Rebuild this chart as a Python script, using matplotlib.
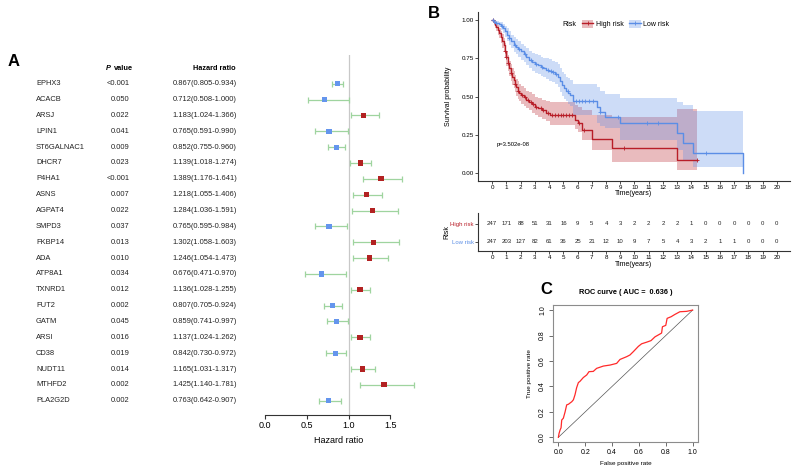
import numpy as np
import matplotlib
matplotlib.use('Agg')
import matplotlib.pyplot as plt
from matplotlib import transforms
from matplotlib.patches import Patch
from matplotlib.lines import Line2D

plt.rcParams['font.family'] = ['Liberation Sans', 'DejaVu Sans']

# ---------------- Panel A data ----------------
genes = ['EPHX3', 'ACACB', 'ARSJ', 'LPIN1', 'ST6GALNAC1', 'DHCR7', 'P4HA1', 'ASNS',
         'AGPAT4', 'SMPD3', 'FKBP14', 'ADA', 'ATP8A1', 'TXNRD1', 'FUT2', 'GATM',
         'ARSI', 'CD38', 'NUDT11', 'MTHFD2', 'PLA2G2D']
pvals = ['<0.001', '0.050', '0.022', '0.041', '0.009', '0.023', '<0.001', '0.007',
         '0.022', '0.037', '0.013', '0.010', '0.034', '0.012', '0.002', '0.045',
         '0.016', '0.019', '0.014', '0.002', '0.002']
hr = [0.867, 0.712, 1.183, 0.765, 0.852, 1.139, 1.389, 1.218, 1.284, 0.765, 1.302,
      1.246, 0.676, 1.136, 0.807, 0.859, 1.137, 0.842, 1.165, 1.425, 0.763]
hr_lo = [0.805, 0.508, 1.024, 0.591, 0.755, 1.018, 1.176, 1.055, 1.036, 0.595, 1.058,
         1.054, 0.471, 1.028, 0.705, 0.741, 1.024, 0.730, 1.031, 1.140, 0.642]
hr_hi = [0.934, 1.000, 1.366, 0.990, 0.960, 1.274, 1.641, 1.406, 1.591, 0.984, 1.603,
         1.473, 0.970, 1.255, 0.924, 0.997, 1.262, 0.972, 1.317, 1.781, 0.907]
hr_ticks = [0.0, 0.5, 1.0, 1.5]

# ---------------- Panel B data ----------------
high_t = [0, 0.1, 0.2, 0.3, 0.4, 0.5, 0.6, 0.7, 0.8, 0.9, 1.0, 1.1, 1.2, 1.3, 1.4, 1.5,
          1.6, 1.7, 1.8, 1.9, 2.0, 2.2, 2.4, 2.6, 2.8, 3.0, 3.25, 3.5, 3.75, 4.05,
          5.82, 6.0, 6.29, 7.0, 8.4, 13.0, 14.4]
high_s = [1.0, 0.985, 0.97, 0.955, 0.935, 0.915, 0.89, 0.865, 0.835, 0.80, 0.76, 0.72,
          0.685, 0.655, 0.63, 0.61, 0.585, 0.56, 0.54, 0.525, 0.51, 0.495, 0.48, 0.465,
          0.45, 0.435, 0.425, 0.41, 0.395, 0.38, 0.348, 0.326, 0.28, 0.222, 0.165,
          0.085, 0.085]
high_hi = [1.0, 0.995, 0.99, 0.98, 0.965, 0.95, 0.93, 0.91, 0.88, 0.85, 0.80, 0.77,
           0.735, 0.71, 0.685, 0.665, 0.64, 0.615, 0.60, 0.585, 0.57, 0.555, 0.54, 0.53,
           0.515, 0.50, 0.49, 0.48, 0.47, 0.467, 0.445, 0.43, 0.41, 0.38, 0.37, 0.42, 0.42]
high_lo = [1.0, 0.97, 0.95, 0.93, 0.905, 0.88, 0.85, 0.82, 0.79, 0.75, 0.70, 0.67,
           0.635, 0.60, 0.575, 0.555, 0.53, 0.505, 0.485, 0.47, 0.455, 0.44, 0.425, 0.41,
           0.395, 0.38, 0.37, 0.355, 0.34, 0.315, 0.29, 0.272, 0.217, 0.15, 0.076, 0.02, 0.02]
high_cens = [0.05, 0.9, 1.0, 1.1, 1.3, 1.6, 1.8, 2.1, 2.3, 2.5, 2.7, 2.9, 3.1, 3.4,
             3.6, 3.9, 4.2, 4.4, 4.6, 4.8, 5.0, 5.2, 5.4, 5.6, 6.1, 6.45, 9.25, 14.4]

low_t = [0, 0.15, 0.3, 0.45, 0.6, 0.75, 0.9, 1.05, 1.2, 1.35, 1.5, 1.65, 1.8, 2.0, 2.2,
         2.4, 2.6, 2.8, 3.0, 3.2, 3.4, 3.6, 3.8, 4.0, 4.2, 4.4, 4.6, 4.75, 4.9, 5.05,
         5.2, 5.35, 5.5, 5.7, 7.34, 7.55, 7.9, 9.0, 12.97, 13.4, 14.1, 17.6]
low_s = [1.0, 0.99, 0.983, 0.975, 0.96, 0.945, 0.925, 0.905, 0.88, 0.86, 0.84, 0.825,
         0.81, 0.795, 0.78, 0.76, 0.74, 0.725, 0.715, 0.705, 0.695, 0.685, 0.675, 0.67,
         0.66, 0.65, 0.63, 0.60, 0.575, 0.555, 0.54, 0.525, 0.51, 0.474, 0.434, 0.402,
         0.37, 0.33, 0.261, 0.196, 0.13, 0.0]
low_hi = [1.0, 1.0, 0.995, 0.99, 0.985, 0.975, 0.96, 0.945, 0.925, 0.905, 0.89, 0.875,
          0.86, 0.845, 0.83, 0.815, 0.80, 0.785, 0.775, 0.77, 0.76, 0.755, 0.75, 0.745,
          0.735, 0.725, 0.71, 0.685, 0.66, 0.645, 0.63, 0.62, 0.61, 0.585, 0.565, 0.54,
          0.52, 0.49, 0.467, 0.445, 0.408, 0.408]
low_lo = [1.0, 0.975, 0.965, 0.955, 0.935, 0.915, 0.89, 0.865, 0.835, 0.815, 0.79, 0.775,
          0.76, 0.74, 0.725, 0.705, 0.685, 0.67, 0.655, 0.645, 0.635, 0.625, 0.615, 0.605,
          0.595, 0.585, 0.56, 0.53, 0.505, 0.485, 0.47, 0.455, 0.44, 0.38, 0.326, 0.31,
          0.293, 0.217, 0.15, 0.09, 0.039, 0.039]
low_cens = [0.05, 0.3, 0.7, 1.2, 1.6, 1.9, 2.3, 2.7, 3.1, 3.5, 3.9, 4.1, 4.3, 4.5, 5.3,
            5.9, 6.1, 6.3, 6.5, 6.8, 7.1, 7.6, 8.86, 10.85, 11.63, 15.0]

risk_times = list(range(0, 21))
risk_high = [247, 171, 88, 51, 31, 16, 9, 5, 4, 3, 2, 2, 2, 2, 1, 0, 0, 0, 0, 0, 0]
risk_low = [247, 203, 127, 82, 61, 36, 25, 21, 12, 10, 9, 7, 5, 4, 3, 2, 1, 1, 0, 0, 0]
pval_text = 'p=3.502e-08'

# ---------------- Panel C data ----------------
fpr = [0, 0.005, 0.013, 0.02, 0.025, 0.037, 0.05, 0.062, 0.075, 0.1, 0.112, 0.124,
       0.136, 0.149, 0.161, 0.186, 0.211, 0.228, 0.26, 0.285, 0.335, 0.385, 0.434,
       0.459, 0.509, 0.533, 0.558, 0.596, 0.62, 0.658, 0.69, 0.72, 0.757, 0.769,
       0.775, 0.8, 0.81, 0.84, 0.868, 0.905, 0.955, 1.0]
tpr = [0, 0.03, 0.058, 0.075, 0.136, 0.15, 0.2, 0.255, 0.26, 0.28, 0.295, 0.335,
       0.39, 0.43, 0.44, 0.47, 0.49, 0.516, 0.518, 0.542, 0.56, 0.568, 0.581, 0.612,
       0.634, 0.647, 0.673, 0.715, 0.735, 0.748, 0.76, 0.79, 0.812, 0.82, 0.869,
       0.88, 0.935, 0.948, 0.966, 0.987, 0.99, 1.0]
auc_text = 'ROC curve ( AUC =  0.636 )'

# ---------------- styles ----------------
RED = '#B22222'
BLUE = '#6495ED'
KM_RED = '#B81E28'
KM_BLUE = '#5B8EE6'
GREEN = '#9fd49f'
W, H = 794, 469

fig = plt.figure(figsize=(W / 100, H / 100), dpi=100)


def ax_px(l, t, r, b):
    return fig.add_axes([l / W, 1 - b / H, (r - l) / W, (b - t) / H])


# ================= Panel A =================
ax_f = ax_px(258, 55, 420, 415)
rows = np.arange(len(genes))
hr_a = np.array(hr)
lo_a = np.array(hr_lo)
hi_a = np.array(hr_hi)
ax_f.errorbar(hr_a, rows, xerr=[hr_a - lo_a, hi_a - hr_a], fmt='none', ecolor=GREEN,
              elinewidth=0.9, capsize=2.2, capthick=0.9, zorder=2)
cols = [RED if h > 1 else BLUE for h in hr]
ax_f.scatter(hr_a, rows, marker='s', s=14, c=cols, linewidths=0, zorder=3)
ax_f.axvline(1.0, color='#c8c8c8', lw=0.9, zorder=1)
ax_f.set_xlim(-0.088, 1.857)
ax_f.set_ylim(20.9, -1.81)
for s in ['left', 'top', 'right']:
    ax_f.spines[s].set_visible(False)
ax_f.spines['bottom'].set_bounds(0, 1.5)
ax_f.spines['bottom'].set_color('#333333')
ax_f.spines['bottom'].set_linewidth(0.8)
ax_f.set_xticks(hr_ticks)
ax_f.set_xticklabels(['%.1f' % v for v in hr_ticks], fontsize=6.5)
ax_f.tick_params(axis='x', length=3, width=0.8, color='#333333', pad=1.5)
ax_f.set_yticks([])
ax_f.set_xlabel('Hazard ratio', fontsize=6.5, labelpad=4)

tr = transforms.blended_transform_factory(fig.transFigure, ax_f.transData)
for i, (g, p, h, l, u) in enumerate(zip(genes, pvals, hr, hr_lo, hr_hi)):
    fig.text(36 / W, i, g, transform=tr, fontsize=5.4, va='center', ha='left', color='#222222')
    fig.text(129.5 / W, i, p, transform=tr, fontsize=5.4, va='center', ha='right', color='#222222')
    fig.text(236.7 / W, i, '%.3f(%.3f-%.3f)' % (h, l, u), transform=tr, fontsize=5.4,
             va='center', ha='right', color='#222222')
fig.text(111 / W, -0.97, 'P', transform=tr, fontsize=5.3, fontweight='bold',
         fontstyle='italic', va='center', ha='right')
fig.text(113.5 / W, -0.97, 'value', transform=tr, fontsize=5.3, fontweight='bold',
         va='center', ha='left')
fig.text(236 / W, -0.97, 'Hazard ratio', transform=tr, fontsize=5.3, fontweight='bold',
         va='center', ha='right')
fig.text(14 / W, 1 - 62 / H, 'A', fontsize=12, fontweight='bold', ha='center', va='center')

# ================= Panel B: KM =================
ax_km = ax_px(478, 12.3, 790, 181)


def step_lookup(times, surv, q):
    idx = np.searchsorted(np.array(times), np.array(q), side='right') - 1
    return np.array(surv)[idx]


ax_km.fill_between(high_t, high_lo, high_hi, step='post', color=KM_RED, alpha=0.3,
                   linewidth=0)
ax_km.fill_between(low_t, low_lo, low_hi, step='post', color=KM_BLUE, alpha=0.3,
                   linewidth=0)
ax_km.plot(high_t, high_s, drawstyle='steps-post', color=KM_RED, lw=1.0)
ax_km.plot(low_t, low_s, drawstyle='steps-post', color=KM_BLUE, lw=1.0)
ax_km.plot(high_cens, step_lookup(high_t, high_s, high_cens), '+', color=KM_RED,
           ms=3, mew=0.6)
ax_km.plot(low_cens, step_lookup(low_t, low_s, low_cens), '+', color=KM_BLUE,
           ms=3, mew=0.6)
ax_km.set_xlim(-1, 20.93)
ax_km.set_ylim(-0.05, 1.05)
for s in ['top', 'right']:
    ax_km.spines[s].set_visible(False)
for s in ['left', 'bottom']:
    ax_km.spines[s].set_color('#333333')
    ax_km.spines[s].set_linewidth(0.8)
ax_km.set_xticks(risk_times)
ax_km.set_xticklabels([str(t) for t in risk_times], fontsize=4.5)
ax_km.set_yticks([0, 0.25, 0.5, 0.75, 1.0])
ax_km.set_yticklabels(['0.00', '0.25', '0.50', '0.75', '1.00'], fontsize=4.5)
ax_km.tick_params(length=2, width=0.6, color='#333333', pad=1)
ax_km.set_xlabel('Time(years)', fontsize=5)
ax_km.xaxis.set_label_coords(0.5, -12 / 168.7)
ax_km.xaxis.label.set_verticalalignment('center')
ax_km.set_ylabel('Survival probability', fontsize=5)
ax_km.yaxis.set_label_coords(-30 / 312, 0.5)
ax_km.yaxis.label.set_verticalalignment('center')
ax_km.text(0.3, 0.19, pval_text, fontsize=4.2, ha='left', va='center')

handles = [(Patch(facecolor=KM_RED, alpha=0.3, linewidth=0),
            Line2D([], [], color=KM_RED, lw=1.0, marker='+', ms=3, mew=0.6)),
           (Patch(facecolor=KM_BLUE, alpha=0.3, linewidth=0),
            Line2D([], [], color=KM_BLUE, lw=1.0, marker='+', ms=3, mew=0.6))]
leg = ax_km.legend(handles, ['High risk', 'Low risk'], ncol=2, frameon=False, fontsize=5,
                   handlelength=1.6, handleheight=1.4, handletextpad=0.4, columnspacing=0.8,
                   loc='center left',
                   bbox_to_anchor=((576 - 478) / 312, (181 - 24) / 168.7))
fig.text(562 / W, 1 - 24 / H, 'Risk', fontsize=5, ha='left', va='center')
fig.text(434 / W, 1 - 13 / H, 'B', fontsize=12, fontweight='bold', ha='center', va='center')

# ================= Panel B: risk table =================
ax_rt = ax_px(478, 213, 790, 251)
for t, a, b in zip(risk_times, risk_high, risk_low):
    ax_rt.text(t, 2, str(a), fontsize=4.3, ha='center', va='center', color='#222222')
    ax_rt.text(t, 1, str(b), fontsize=4.3, ha='center', va='center', color='#222222')
ax_rt.set_xlim(-1, 20.93)
ax_rt.set_ylim(0.48, 2.59)
for s in ['top', 'right']:
    ax_rt.spines[s].set_visible(False)
for s in ['left', 'bottom']:
    ax_rt.spines[s].set_color('#333333')
    ax_rt.spines[s].set_linewidth(0.8)
ax_rt.set_xticks(risk_times)
ax_rt.set_xticklabels([str(t) for t in risk_times], fontsize=4.5)
ax_rt.set_yticks([2, 1])
ax_rt.set_yticklabels(['High risk', 'Low risk'], fontsize=4.3)
ax_rt.get_yticklabels()[0].set_color(KM_RED)
ax_rt.get_yticklabels()[1].set_color(KM_BLUE)
ax_rt.tick_params(length=2, width=0.6, color='#333333', pad=1)
ax_rt.set_xlabel('Time(years)', fontsize=5)
ax_rt.xaxis.set_label_coords(0.5, -13 / 38)
ax_rt.xaxis.label.set_verticalalignment('center')
ax_rt.set_ylabel('Risk', fontsize=5)
ax_rt.yaxis.set_label_coords(-31 / 312, 0.5)
ax_rt.yaxis.label.set_verticalalignment('center')

# ================= Panel C: ROC =================
ax_r = ax_px(553, 305, 698, 442.4)
ax_r.plot([0, 1], [0, 1], color='#555555', lw=0.5)
ax_r.plot(fpr, tpr, color='#FF2A2A', lw=0.9)
ax_r.set_xlim(-0.04, 1.04)
ax_r.set_ylim(-0.04, 1.04)
for s in ax_r.spines.values():
    s.set_color('#8c8c8c')
    s.set_linewidth(0.8)
ticks = [0, 0.2, 0.4, 0.6, 0.8, 1.0]
ax_r.set_xticks(ticks)
ax_r.set_xticklabels(['%.1f' % v for v in ticks], fontsize=5)
ax_r.set_yticks(ticks)
ax_r.set_yticklabels(['%.1f' % v for v in ticks], fontsize=5, rotation=90, va='center')
ax_r.tick_params(length=3, width=0.6, color='#555555', pad=2)
ax_r.set_xlabel('False positive rate', fontsize=4.6)
ax_r.xaxis.set_label_coords(0.5, -(463 - 442.4) / 137.4)
ax_r.xaxis.label.set_verticalalignment('center')
ax_r.set_ylabel('True positive rate', fontsize=4.6)
ax_r.yaxis.set_label_coords(-(553 - 530) / 145, 0.5)
ax_r.yaxis.label.set_verticalalignment('center')
ax_r.text(0.5, 1 + (305 - 292) / 137.4, auc_text, transform=ax_r.transAxes, fontsize=5.3,
          fontweight='bold', ha='center', va='center')
fig.text(546 / W, 1 - 289 / H, 'C', fontsize=12, fontweight='bold', ha='center', va='center')

fig.savefig('out.png', dpi=100, facecolor='white')
